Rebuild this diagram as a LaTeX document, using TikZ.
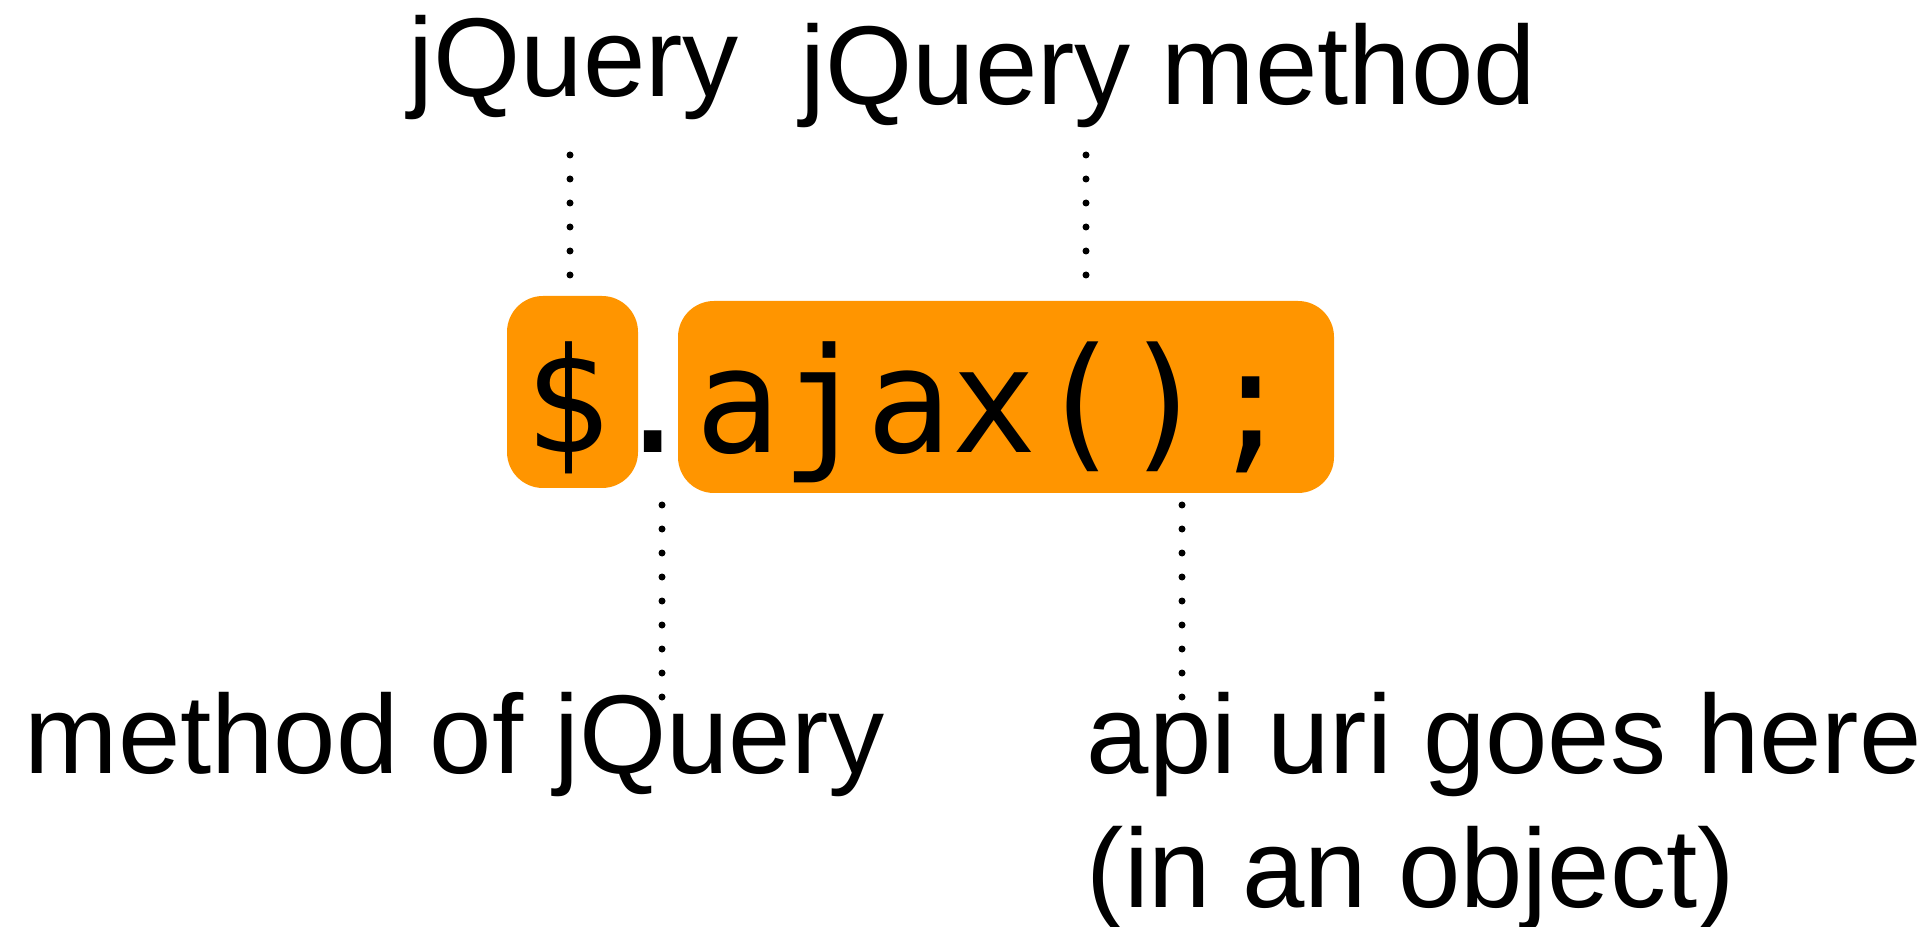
\documentclass[tikz,border=0pt]{standalone}
\usepackage{fontspec}
\setmainfont{Liberation Sans}
\newfontfamily\codefont[FakeStretch=0.973]{DejaVu Sans Mono}
\definecolor{jqorange}{RGB}{255,149,0}
\tikzset{
	lbl/.style={font=\fontsize{31.9}{38.1}\selectfont, inner sep=0pt, anchor=base west},
	codebox/.style={fill=jqorange, rounded corners=0.36cm, minimum height=1.92cm, inner sep=0pt},
	code/.style={font=\codefont\fontsize{41.5}{48}\selectfont, inner sep=0pt, anchor=base west},
	dotline/.style={line width=0.07cm, line cap=round, dash pattern=on 0pt off 0.24cm}
}
\begin{document}
\begin{tikzpicture}
		\useasboundingbox (0,0) rectangle (19.31,-9.27);

		\node[codebox, minimum width=1.31cm] (dollar) at ( 5.725,-3.92) {};
		\node[codebox, minimum width=6.56cm] (ajax) at (10.06,-3.97) {};
		\node[code] (codeline) at ( 5.24,-4.53) {\$.ajax();};

		\node[lbl] (jq) at ( 4.08,-0.965) {jQuery};
		\node[lbl] (jqmethod) at ( 8.00,-1.05) {jQuery method};
		\node[lbl] (methodof) at ( 0.24,-7.73) {method of jQuery};
		% anchor base is the baseline of the last line
		\node[lbl, align=left] (apiuri) at (10.86,-9.07) {api uri goes here\\(in an object)};

		\coordinate (d1a) at ( 5.70,-1.55); \coordinate (d1b) at ( 5.70,-2.765);
		\coordinate (d2a) at (10.86,-1.55); \coordinate (d2b) at (10.86,-2.765);
		\coordinate (d3a) at ( 6.62,-5.05); \coordinate (d3b) at ( 6.62,-6.975);
		\coordinate (d4a) at (11.82,-5.05); \coordinate (d4b) at (11.82,-6.975);

		\draw[dotline] (d1a) to (d1b); \draw[dotline] (d2a) to (d2b);
		\draw[dotline] (d3a) to (d3b); \draw[dotline] (d4a) to (d4b);

	\end{tikzpicture}
\end{document}
